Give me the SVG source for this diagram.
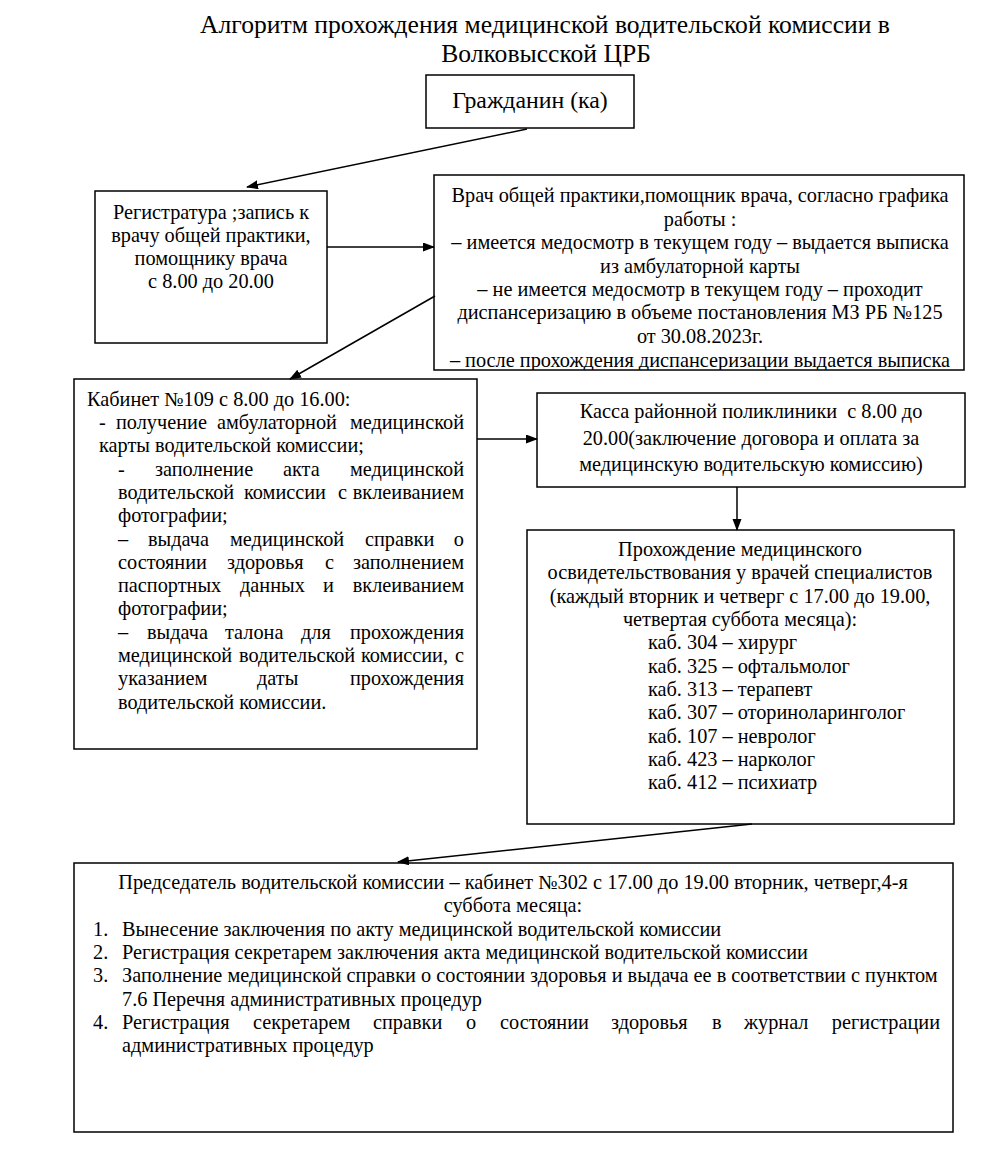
<svg xmlns="http://www.w3.org/2000/svg" width="1000" height="1164" viewBox="0 0 1000 1164" font-family="'Liberation Serif', 'DejaVu Serif', 'Noto Serif', serif">
<style>
text{font-family:'Liberation Serif','DejaVu Serif','Noto Serif',serif;fill:#000;}
.t{font-size:20.3px;}
.c{text-anchor:middle;}
.e{text-anchor:end;}
.box{fill:#fff;stroke:#000;stroke-width:1.5;}
.ln{stroke:#000;stroke-width:1.5;fill:none;marker-end:url(#ah);}
</style>
<defs>
<marker id="ah" markerUnits="userSpaceOnUse" markerWidth="12" markerHeight="10" refX="11" refY="4.5" orient="auto">
<path d="M0,0 L12,4.5 L0,9 Z" fill="#000"/>
</marker>
<clipPath id="cv"><rect x="434" y="175" width="530" height="195"/></clipPath>
</defs>
<rect width="1000" height="1164" fill="#fff"/>
<g id="title">
<text x="545" y="33" class="c" font-size="25.6">Алгоритм прохождения медицинской водительской комиссии в</text>
<text x="546" y="62" class="c" font-size="25.6">Волковысской ЦРБ</text>
</g>
<g id="citizen">
<rect class="box" x="426" y="75" width="208" height="53"/>
<text x="530" y="108" class="c" font-size="23.8">Гражданин (ка)</text>
</g>
<g id="registry">
<rect class="box" x="95" y="191" width="232" height="152"/>
<text class="t c" x="211" y="219">Регистратура ;запись к</text>
<text class="t c" x="211" y="242">врачу общей практики,</text>
<text class="t c" x="211" y="265">помощнику врача</text>
<text class="t c" x="211" y="288">с 8.00 до 20.00</text>
</g>
<g id="doctor">
<rect class="box" x="434" y="175" width="530" height="195"/>
<g clip-path="url(#cv)">
<text class="t c" x="700" y="202">Врач общей практики,помощник врача, согласно графика</text>
<text class="t c" x="700" y="226">работы :</text>
<text class="t c" x="700" y="249">– имеется медосмотр в текущем году – выдается выписка</text>
<text class="t c" x="700" y="273">из амбулаторной карты</text>
<text class="t c" x="700" y="296">– не имеется медосмотр в текущем году – проходит</text>
<text class="t c" x="700" y="319">диспансеризацию в объеме постановления МЗ РБ №125</text>
<text class="t c" x="700" y="343">от 30.08.2023г.</text>
<text class="t c" x="700" y="367">– после прохождения диспансеризации выдается выписка</text>
</g>
</g>
<g id="cabinet109">
<rect class="box" x="74" y="379" width="403" height="370"/>
<text class="t" x="87" y="406">Кабинет №109 с 8.00 до 16.00:</text>
<text class="t" y="429"><tspan x="99">-</tspan><tspan x="116">получение</tspan><tspan x="217">амбулаторной</tspan><tspan x="464" class="e">медицинской</tspan></text>
<text class="t" x="99" y="452">карты водительской комиссии;</text>
<text class="t" y="476"><tspan x="118">-</tspan><tspan x="155">заполнение</tspan><tspan x="283">акта</tspan><tspan x="464" class="e">медицинской</tspan></text>
<text class="t" y="499"><tspan x="118">водительской</tspan><tspan x="244">комиссии</tspan><tspan x="338">с</tspan><tspan x="464" class="e">вклеиванием</tspan></text>
<text class="t" x="118" y="522">фотографии;</text>
<text class="t" y="546"><tspan x="118">–</tspan><tspan x="148">выдача</tspan><tspan x="230">медицинской</tspan><tspan x="365">справки</tspan><tspan x="464" class="e">о</tspan></text>
<text class="t" y="569"><tspan x="118">состоянии</tspan><tspan x="227">здоровья</tspan><tspan x="325">с</tspan><tspan x="464" class="e">заполнением</tspan></text>
<text class="t" y="592"><tspan x="118">паспортных</tspan><tspan x="240">данных</tspan><tspan x="323">и</tspan><tspan x="464" class="e">вклеиванием</tspan></text>
<text class="t" x="118" y="615">фотографии;</text>
<text class="t" y="639"><tspan x="118">–</tspan><tspan x="147">выдача</tspan><tspan x="225">талона</tspan><tspan x="301">для</tspan><tspan x="464" class="e">прохождения</tspan></text>
<text class="t" y="662"><tspan x="118">медицинской</tspan><tspan x="239">водительской</tspan><tspan x="361">комиссии,</tspan><tspan x="464" class="e">с</tspan></text>
<text class="t" y="685"><tspan x="118">указанием</tspan><tspan x="257">даты</tspan><tspan x="464" class="e">прохождения</tspan></text>
<text class="t" x="118" y="709">водительской комиссии.</text>
</g>
<g id="cashier">
<rect class="box" x="537" y="393" width="428" height="94"/>
<text class="t c" x="751" y="418">Касса районной поликлиники&#160; с 8.00 до</text>
<text class="t c" x="751" y="445">20.00(заключение договора и оплата за</text>
<text class="t c" x="751" y="471">медицинскую водительскую комиссию)</text>
</g>
<g id="specialists">
<rect class="box" x="527" y="530" width="427" height="294"/>
<text class="t c" x="740" y="556">Прохождение медицинского</text>
<text class="t c" x="740" y="579">освидетельствования у врачей специалистов</text>
<text class="t c" x="740" y="603">(каждый вторник и четверг с 17.00 до 19.00,</text>
<text class="t c" x="740" y="626">четвертая суббота месяца):</text>
<text class="t" x="648" y="649">каб. 304 – хирург</text>
<text class="t" x="648" y="673">каб. 325 – офтальмолог</text>
<text class="t" x="648" y="696">каб. 313 – терапевт</text>
<text class="t" x="648" y="719">каб. 307 – оториноларинголог</text>
<text class="t" x="648" y="743">каб. 107 – невролог</text>
<text class="t" x="648" y="766">каб. 423 – нарколог</text>
<text class="t" x="648" y="789">каб. 412 – психиатр</text>
</g>
<g id="chairman">
<rect class="box" x="74" y="863" width="879" height="269"/>
<text class="t c" x="513" y="889">Председатель водительской комиссии – кабинет №302 с 17.00 до 19.00 вторник, четверг,4-я</text>
<text class="t c" x="513" y="912">суббота месяца:</text>
<text class="t" x="93" y="936">1.</text>
<text class="t" x="122" y="936">Вынесение заключения по акту медицинской водительской комиссии</text>
<text class="t" x="93" y="959">2.</text>
<text class="t" x="122" y="959">Регистрация секретарем заключения акта медицинской водительской комиссии</text>
<text class="t" x="93" y="982">3.</text>
<text class="t" x="122" y="982">Заполнение медицинской справки о состоянии здоровья и выдача ее в соответствии с пунктом</text>
<text class="t" x="122" y="1006">7.6 Перечня административных процедур</text>
<text class="t" x="93" y="1029">4.</text>
<text class="t" y="1029"><tspan x="122">Регистрация</tspan><tspan x="253">секретарем</tspan><tspan x="373">справки</tspan><tspan x="466">о</tspan><tspan x="500">состоянии</tspan><tspan x="611">здоровья</tspan><tspan x="712">в</tspan><tspan x="744">журнал</tspan><tspan x="940" class="e">регистрации</tspan></text>
<text class="t" x="122" y="1052">административных процедур</text>
</g>
<g id="connectors">
<line class="ln" x1="527" y1="129" x2="247" y2="187"/>
<line class="ln" x1="327" y1="247" x2="434" y2="247"/>
<line class="ln" x1="435" y1="296" x2="290" y2="379"/>
<line class="ln" x1="477" y1="439" x2="537" y2="439"/>
<line class="ln" x1="737" y1="487" x2="737" y2="530"/>
<line class="ln" x1="752" y1="824" x2="398" y2="862"/>
</g>
</svg>
